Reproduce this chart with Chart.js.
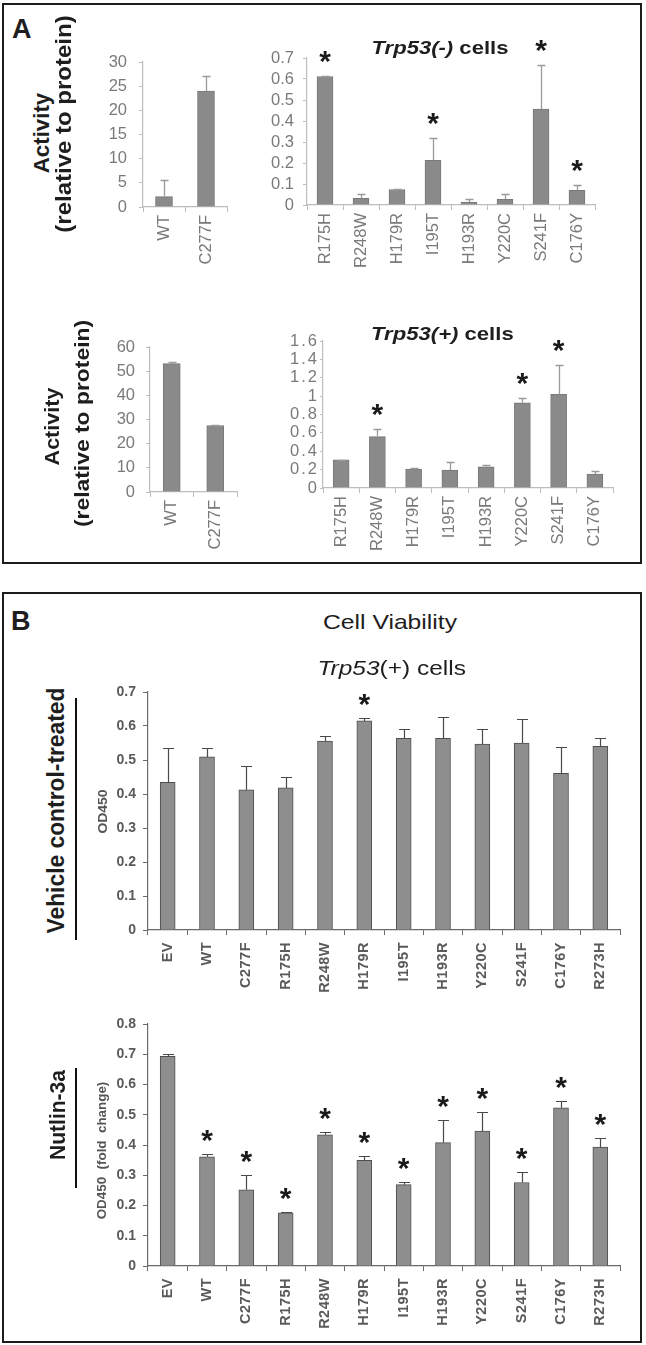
<!DOCTYPE html>
<html>
<head>
<meta charset="utf-8">
<script src="https://cdn.jsdelivr.net/npm/chart.js@4.4.0/dist/chart.umd.min.js"></script>
<style>
  body { margin: 0; background: #fff; width: 646px; height: 1345px; position: relative; overflow: hidden;
         font-family: "Liberation Sans", Arial, sans-serif; }
  .box { position: absolute; border: 2px solid #1c1c1c; box-sizing: border-box; }
  canvas { position: absolute; }
  .t { position: absolute; white-space: nowrap; line-height: 1; color: #1e1e1e; }
  .vline { position: absolute; background: #111; width: 2px; }
</style>
</head>
<body>
<div class="box" style="left:2px;top:3px;width:640px;height:561px"></div>
<div class="box" style="left:2px;top:592px;width:640px;height:751px"></div>
<div class="vline" style="left:75px;top:698px;height:242px"></div>
<div class="vline" style="left:75px;top:1068px;height:120px"></div>

<script>
// ---- Panel A, Trp53(-) cells ----
const negCtrlLabels = ["WT", "C277F"];
const negCtrlValues = [2.15, 24.0];
const negCtrlErrTop = [5.6, 27.1];

const negMutLabels = ["R175H", "R248W", "H179R", "I195T", "H193R", "Y220C", "S241F", "C176Y"];
const negMutValues = [0.612, 0.032, 0.074, 0.213, 0.014, 0.027, 0.457, 0.070];
const negMutErrTop = [0.615, 0.052, 0.077, 0.318, 0.027, 0.052, 0.668, 0.095];
const negMutStars = [true, false, false, true, false, false, true, true];

// ---- Panel A, Trp53(+) cells ----
const posCtrlLabels = ["WT", "C277F"];
const posCtrlValues = [53.1, 27.5];
const posCtrlErrTop = [53.8, 27.9];

const posMutLabels = ["R175H", "R248W", "H179R", "I195T", "H193R", "Y220C", "S241F", "C176Y"];
const posMutValues = [0.307, 0.560, 0.206, 0.195, 0.231, 0.928, 1.019, 0.152];
const posMutErrTop = [0.310, 0.640, 0.213, 0.282, 0.249, 0.976, 1.344, 0.188];
const posMutStars = [false, true, false, false, false, true, true, false];

// ---- Panel B, cell viability ----
const viaLabels = ["EV", "WT", "C277F", "R175H", "R248W", "H179R", "I195T", "H193R", "Y220C", "S241F", "C176Y", "R273H"];
const vehValues = [0.434, 0.509, 0.412, 0.418, 0.556, 0.615, 0.564, 0.564, 0.547, 0.550, 0.461, 0.540];
const vehErrTop = [0.534, 0.534, 0.482, 0.451, 0.571, 0.624, 0.591, 0.626, 0.591, 0.621, 0.537, 0.564];
const vehStars = [false, false, false, false, false, true, false, false, false, false, false, false];

const nutValues = [0.693, 0.361, 0.252, 0.176, 0.434, 0.349, 0.269, 0.408, 0.446, 0.276, 0.523, 0.393];
const nutErrTop = [0.702, 0.369, 0.300, 0.178, 0.443, 0.362, 0.277, 0.483, 0.509, 0.311, 0.544, 0.424];
const nutStars = [false, true, true, true, true, true, true, true, true, true, true, true];

Chart.defaults.font.family = '"Liberation Sans", Arial, sans-serif';
Chart.defaults.animation = false;

const styleA = {
  bar: "#8a8a8a", barBorder: "#787878", axis: "#bdbdbd", tick: "#7a7a7a",
  yFont: { size: 16.5 }, xFont: { size: 16.5 },
  err: "#9a9a9a", errWidth: 1.3, cap: 8, starGap: 20
};
const styleB = {
  bar: "#8e8e8e", barBorder: "#4e4e4e", axis: "#6a6a6a", tick: "#5a5a5a",
  yFont: { size: 14, weight: "bold" }, xFont: { size: 14.5, weight: "bold" },
  err: "#4a4a4a", errWidth: 1.2, cap: 11, starGap: 19, xSpacing: "0.5px"
};

function spacedLabels(scale, spacing) {
  if (!spacing || scale._spaced) return;
  const orig = scale.drawLabels.bind(scale);
  scale.drawLabels = function(area) {
    this.ctx.save();
    this.ctx.letterSpacing = spacing;
    orig(area);
    this.ctx.restore();
  };
  scale._spaced = true;
}

function errorBars(errTop, stars, st) {
  return {
    id: "errbars",
    afterDatasetsDraw(chart) {
      const ctx = chart.ctx;
      const y = chart.scales.y;
      const meta = chart.getDatasetMeta(0);
      ctx.save();
      ctx.strokeStyle = st.err;
      ctx.lineWidth = st.errWidth;
      ctx.font = "bold 30px 'Liberation Sans', Arial";
      ctx.textAlign = "center";
      ctx.textBaseline = "alphabetic";
      ctx.fillStyle = "#1a1a1a";
      const m = ctx.measureText("*");
      const inkMid = (m.actualBoundingBoxAscent - m.actualBoundingBoxDescent) / 2;
      meta.data.forEach((bar, i) => {
        const x = Math.round(bar.x) + 0.5;
        const yt = Math.round(y.getPixelForValue(errTop[i])) + 0.5;
        ctx.beginPath();
        ctx.moveTo(x, bar.y);
        ctx.lineTo(x, yt);
        ctx.moveTo(x - st.cap / 2, yt);
        ctx.lineTo(x + st.cap / 2, yt);
        ctx.stroke();
        if (stars && stars[i]) {
          ctx.fillText("*", bar.x, yt - st.starGap + inkMid);
        }
      });
      ctx.restore();
    }
  };
}

function makeChart(geo, labels, values, errTop, stars, st) {
  const W_Y = 70, PAD_TOP = 45, H_X = 75, PAD_R = 25;
  const c = document.createElement("canvas");
  const left = geo.axisX - W_Y, top = geo.topY - PAD_TOP;
  c.width = geo.rightX - left + PAD_R;
  c.height = geo.zeroY - top + H_X;
  c.style.left = left + "px";
  c.style.top = top + "px";
  document.body.appendChild(c);

  return new Chart(c, {
    type: "bar",
    data: {
      labels: labels,
      datasets: [{
        data: values,
        backgroundColor: st.bar,
        borderColor: st.barBorder,
        borderWidth: 1,
        barThickness: geo.barW
      }]
    },
    options: {
      responsive: false,
      layout: { padding: { top: PAD_TOP, right: PAD_R, left: 0, bottom: 0 } },
      plugins: { legend: { display: false }, tooltip: { enabled: false } },
      scales: {
        x: {
          grid: { drawOnChartArea: false, drawTicks: true, tickLength: 5, color: st.axis, offset: true },
          border: { color: st.axis, width: 1.2 },
          ticks: { font: st.xFont, color: st.tick, minRotation: 90, maxRotation: 90,
                   autoSkip: false, padding: geo.xPad },
          afterFit: s => { s.height = H_X; spacedLabels(s, st.xSpacing); }
        },
        y: {
          min: 0, max: geo.max,
          grid: { drawOnChartArea: false, drawTicks: true, tickLength: geo.yTick, color: st.axis },
          border: { color: st.axis, width: 1.2 },
          ticks: { stepSize: geo.step, autoSkip: false, font: st.yFont, color: st.tick, padding: geo.yPad,
                   callback: v => String(Math.round(v * 100) / 100) },
          afterFit: s => { s.width = W_Y; spacedLabels(s, geo.ySpacing); }
        }
      }
    },
    plugins: [errorBars(errTop, stars, st)]
  });
}

makeChart({ axisX: 143, rightX: 227, topY: 62, zeroY: 207, max: 30, step: 5, barW: 17, yTick: 4, yPad: 12, xPad: 3 },
  negCtrlLabels, negCtrlValues, negCtrlErrTop, null, styleA);
makeChart({ axisX: 307, rightX: 595, topY: 58, zeroY: 205, max: 0.7, step: 0.1, barW: 16, yTick: 4, yPad: 9, xPad: 3 },
  negMutLabels, negMutValues, negMutErrTop, negMutStars, styleA);
makeChart({ axisX: 150, rightX: 237, topY: 347, zeroY: 492, max: 60, step: 10, barW: 17, yTick: 4, yPad: 11, xPad: 3 },
  posCtrlLabels, posCtrlValues, posCtrlErrTop, null, styleA);
makeChart({ axisX: 323, rightX: 613, topY: 341, zeroY: 488, max: 1.6, step: 0.2, barW: 16, yTick: 3, yPad: 1, xPad: 3, ySpacing: "2px" },
  posMutLabels, posMutValues, posMutErrTop, posMutStars, styleA);
makeChart({ axisX: 148, rightX: 620, topY: 692, zeroY: 930, max: 0.7, step: 0.1, barW: 15, yTick: 5, yPad: 7, xPad: 7 },
  viaLabels, vehValues, vehErrTop, vehStars, styleB);
makeChart({ axisX: 148, rightX: 620, topY: 1024, zeroY: 1266, max: 0.8, step: 0.1, barW: 15, yTick: 5, yPad: 7, xPad: 7 },
  viaLabels, nutValues, nutErrTop, nutStars, styleB);

// text labels; len = wanted length of the line of text in px
function placeText(html, cx, cy, font, len, vertical, color) {
  const d = document.createElement("div");
  d.className = "t";
  d.innerHTML = html;
  d.style.font = font;
  d.style.lineHeight = "1";
  if (color) d.style.color = color;
  document.body.appendChild(d);
  const w = d.offsetWidth, h = d.offsetHeight;
  const sx = len ? len / w : 1;
  d.style.left = (cx - w / 2) + "px";
  d.style.top = (cy - h / 2) + "px";
  d.style.transform = (vertical ? "rotate(-90deg) " : "") + "scaleX(" + sx + ")";
}

const BOLD = "'Liberation Sans', Arial, sans-serif";
placeText("A", 22, 29, "bold 27px " + BOLD);
placeText("B", 21, 621, "bold 27px " + BOLD);

placeText("<i>Trp53(-)</i> cells", 440, 47, "bold 19px " + BOLD, 137);
placeText("<i>Trp53(+)</i> cells", 442, 333, "bold 19px " + BOLD, 143);

placeText("Activity", 41, 133, "bold 22px " + BOLD, 80, true);
placeText("(relative to protein)", 63, 124, "bold 22px " + BOLD, 217, true);
placeText("Activity", 52, 426, "bold 21px " + BOLD, 78, true);
placeText("(relative to protein)", 81, 423, "bold 21px " + BOLD, 207, true);

placeText("Cell Viability", 390, 621, "21px " + BOLD, 134);
placeText("<i>Trp53</i>(+) cells", 391, 667, "21px " + BOLD, 148);

placeText("Vehicle control-treated", 57, 810, "bold 23px " + BOLD, 246, true);
placeText("OD450", 102, 811, "bold 13px " + BOLD, 44, true, "#555");
placeText("Nutlin-3a", 58, 1115, "bold 22px " + BOLD, 90, true);
placeText("OD450 &nbsp;(fold &nbsp;change)", 102, 1150, "bold 13px " + BOLD, 138, true, "#555");
</script>
</body>
</html>
